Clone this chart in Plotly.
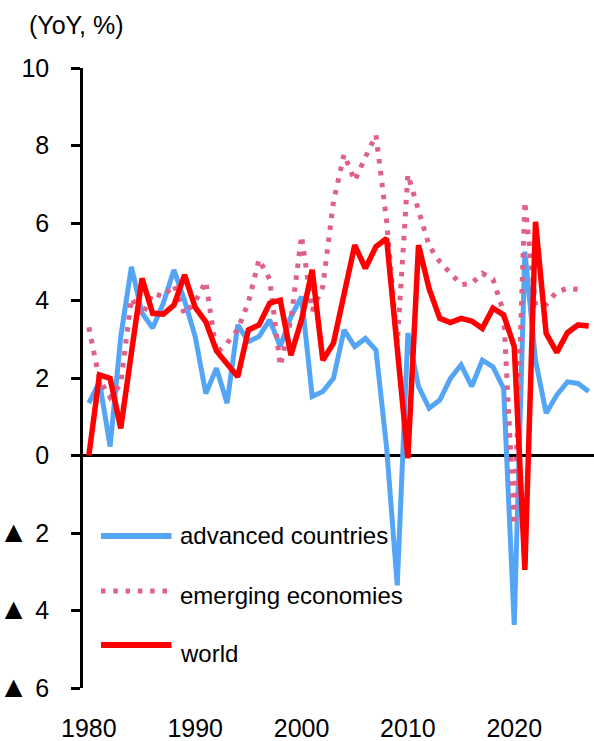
import plotly.graph_objects as go

years = list(range(1980, 2028))

advanced = [1.35, 1.9, 0.23, 3.07, 4.87, 3.68, 3.29, 3.93, 4.79, 4.0,
            3.07, 1.6, 2.25, 1.35, 3.37, 2.94, 3.07, 3.5, 2.81, 3.58,
            4.1, 1.52, 1.65, 1.99, 3.24, 2.81, 3.02, 2.72, 0.2, -3.35,
            3.16, 1.78, 1.22, 1.43, 1.99, 2.34, 1.78, 2.46, 2.29, 1.73,
            -4.37, 5.26, 2.46, 1.09, 1.56, 1.9, 1.86, 1.65]

emerging = [3.31, 1.95, 1.5, 1.85, 4.06, 3.6, 4.19, 4.1, 4.4, 3.65,
            3.97, 4.49, 2.64, 2.9, 3.25, 3.95, 5.06, 4.55, 2.31, 3.5,
            5.67, 3.73, 4.36, 6.55, 7.77, 7.09, 7.7, 8.27, 6.05, 2.9,
            7.25, 6.35, 5.41, 5.0, 4.72, 4.41, 4.44, 4.7, 4.55, 3.7,
            -1.8, 6.55, 3.88, 3.9, 4.23, 4.31, 4.29, None]

world = [0.0, 2.08, 1.99, 0.7, 2.65, 4.57, 3.67, 3.65, 3.88, 4.66,
         3.82, 3.45, 2.7, 2.34, 2.03, 3.24, 3.37, 3.93, 4.01, 2.59,
         3.5, 4.79, 2.46, 2.9, 4.2, 5.43, 4.83, 5.39, 5.6, 2.8,
         -0.07, 5.43, 4.3, 3.54, 3.43, 3.54, 3.47, 3.28, 3.8, 3.63,
         2.81, -2.95, 6.03, 3.15, 2.66, 3.17, 3.37, 3.34]

x_ticks = [1980, 1990, 2000, 2010, 2020]
y_ticks = [-6, -4, -2, 0, 2, 4, 6, 8, 10]
TRI = '<span style="font-size:30px">▲</span>'
y_ticktext = [TRI + " 6", TRI + " 4", TRI + " 2", "0", "2", "4", "6", "8", "10"]

series_names = ["advanced countries", "emerging economies", "world"]
colors = ["#55A5F7", "#E0608C", "#FF0000"]

FONT = "Liberation Sans, Arial, sans-serif"

fig = go.Figure()
fig.add_trace(go.Scatter(x=years, y=advanced, mode="lines", name=series_names[0],
                         line=dict(color=colors[0], width=5), showlegend=False))
fig.add_trace(go.Scatter(x=years, y=emerging, mode="lines", name=series_names[1],
                         line=dict(color=colors[1], width=5, dash="4.5px,7.5px"),
                         showlegend=False))
fig.add_trace(go.Scatter(x=years, y=world, mode="lines", name=series_names[2],
                         line=dict(color=colors[2], width=5.5), showlegend=False))

L, R, T, B = 83, 0, 68, 53
W, H = 594, 741
pw, ph = W - L - R, H - T - B


def px_x(px):
    return (px - L) / pw


def px_y(py):
    return (H - B - py) / ph


# custom legend
legend_rows = [(536, 535), (591, 595), (645, 653)]
shapes = []
annotations = []
for i, (ly, ty) in enumerate(legend_rows):
    line = dict(color=colors[i], width=6 if i != 1 else 5)
    if i == 1:
        line["dash"] = "4.5px,7.8px"
    shapes.append(dict(type="line", xref="paper", yref="paper",
                       x0=px_x(101 if i != 1 else 101), x1=px_x(171.5),
                       y0=px_y(ly), y1=px_y(ly), line=line))
    annotations.append(dict(text=series_names[i], xref="paper", yref="paper",
                            x=px_x(178), y=px_y(ty), xanchor="left", yanchor="middle",
                            showarrow=False, font=dict(family=FONT, size=24, color="black")))

annotations.append(dict(text="(YoY, %)", xref="paper", yref="paper",
                        x=px_x(27), y=px_y(25), xanchor="left", yanchor="middle",
                        showarrow=False, font=dict(family=FONT, size=25, color="black")))

fig.update_layout(
    width=W, height=H,
    margin=dict(l=L, r=R, t=T, b=B, pad=0),
    paper_bgcolor="white", plot_bgcolor="white",
    font=dict(family=FONT, size=25, color="black"),
    shapes=shapes, annotations=annotations,
    xaxis=dict(range=[1979.45, 2027.5], tickvals=x_ticks, ticks="", showline=False,
               showgrid=False, zeroline=False, ticklabelstandoff=23, automargin=False,
               tickfont=dict(family=FONT, size=25, color="black")),
    yaxis=dict(range=[-6, 10], tickvals=y_ticks, ticktext=y_ticktext,
               ticks="outside", ticklen=9, tickwidth=2.5, tickcolor="black",
               showline=True, linecolor="black", linewidth=2.5,
               showgrid=False, zeroline=True, zerolinecolor="black", zerolinewidth=2.5,
               ticklabelstandoff=17, automargin=False,
               tickfont=dict(family=FONT, size=25, color="black")),
)

fig.write_html("out.html", config={"displayModeBar": False},
               post_script="document.body.style.margin='0px';document.body.style.overflow='hidden';")
